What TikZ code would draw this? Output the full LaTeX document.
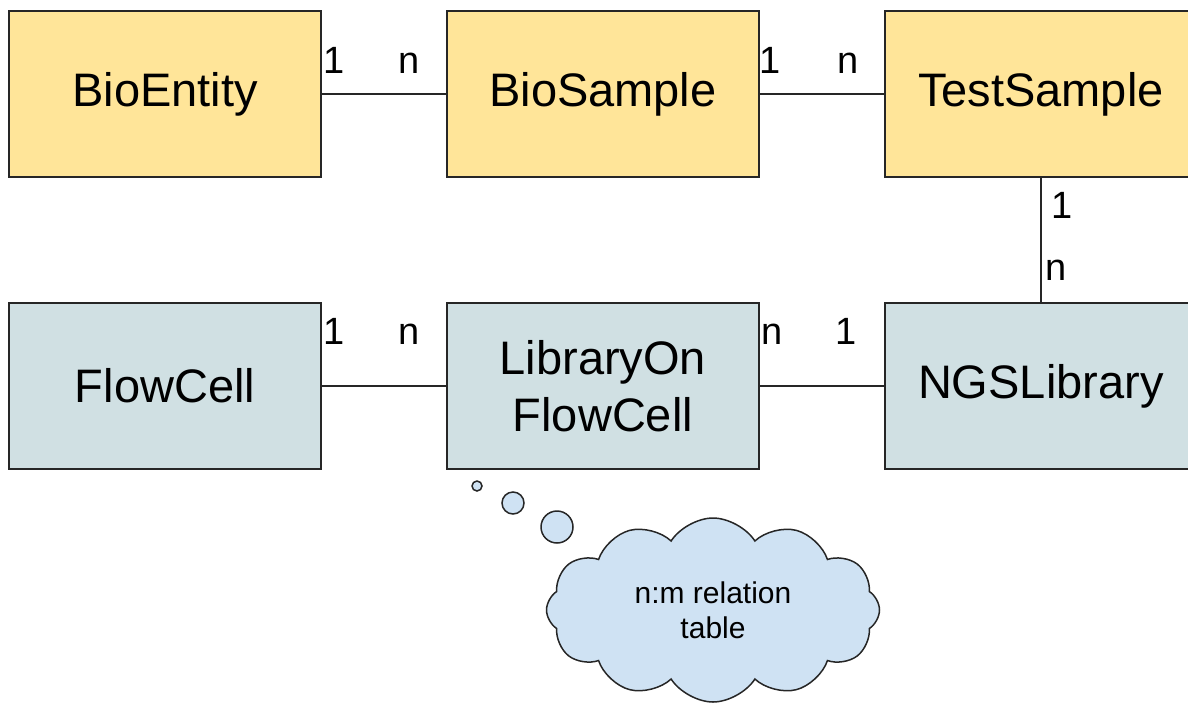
\documentclass[tikz,border=0pt]{standalone}
\usepackage{fontspec}
\setmainfont{Liberation Sans}
\usetikzlibrary{positioning,shapes.symbols}

\definecolor{entityyellow}{HTML}{FFE599}
\definecolor{librarygray}{HTML}{D0E0E3}
\definecolor{cloudblue}{HTML}{CFE2F3}
\definecolor{linegray}{HTML}{262626}

\begin{document}
\begin{tikzpicture}[x=1pt,y=-1pt,node distance=124pt,line width=1.9pt,
color=linegray]

\tikzstyle{table}=[draw,rectangle,minimum width=312pt,minimum height=166pt,
inner sep=0pt,align=center,text=black,font=\fontsize{47}{57}\selectfont]
\tikzstyle{card}=[inner sep=0pt,anchor=base,text=black,font=\fontsize{38}{40}\selectfont]

\useasboundingbox (0,0) rectangle (1188,705);

\node[table,fill=entityyellow] (BioEntity)  at (165,94)          {BioEntity};
\node[table,fill=entityyellow] (BioSample)  [right=of BioEntity] {BioSample};
\node[table,fill=entityyellow] (TestSample) [right=of BioSample] {TestSample};
\node[table,fill=librarygray]  (FlowCell)   [below=of BioEntity] {FlowCell};
\node[table,fill=librarygray]  (LibFlow)    [below=of BioSample] {LibraryOn\\FlowCell};
\node[table,fill=librarygray]  (NGSLibrary) [below=of TestSample] {NGSLibrary};

\path (BioEntity) edge node[card,at start,xshift=12pt,yshift=21pt] (c1) {1}
                       node[card,at end,xshift=-37pt,yshift=21pt] (c2) {n} (BioSample)
      (BioSample) edge node[card,at start,xshift=10pt,yshift=21pt] (c3) {1}
                       node[card,at end,xshift=-36pt,yshift=21pt] (c4) {n} (TestSample)
      (TestSample) edge node[card,at start,xshift=21pt,yshift=-41pt] (c5) {1}
                        node[card,at end,xshift=15pt,yshift=21pt] (c6) {n} (NGSLibrary)
      (FlowCell) edge node[card,at start,xshift=12pt,yshift=41pt] (c7) {1}
                      node[card,at end,xshift=-37pt,yshift=41pt] (c8) {n} (LibFlow)
      (LibFlow) edge node[card,at start,xshift=12pt,yshift=41pt] (c9) {n}
                     node[card,at end,xshift=-38pt,yshift=41pt] (c10) {1} (NGSLibrary);

% thought bubble
\tikzstyle{puff}=[draw,circle,fill=cloudblue,inner sep=0pt,line width=1.5pt]
\node[puff,minimum size=10pt] (p1) at (477,486) {};
\node[puff,minimum size=22pt] (p2) at (513,503) {};
\node[puff,minimum size=32pt] (p3) at (557,527) {};
\node[draw,cloud,cloud puffs=12,cloud puff arc=115,cloud ignores aspect,
      minimum width=333pt,minimum height=184pt,fill=cloudblue,inner sep=0pt,
      align=center,text=black,line width=1.5pt,
      font=\fontsize{30}{35}\selectfont] (relcloud) at (713,610)
      {n:m relation\\table};
\end{tikzpicture}
\end{document}
